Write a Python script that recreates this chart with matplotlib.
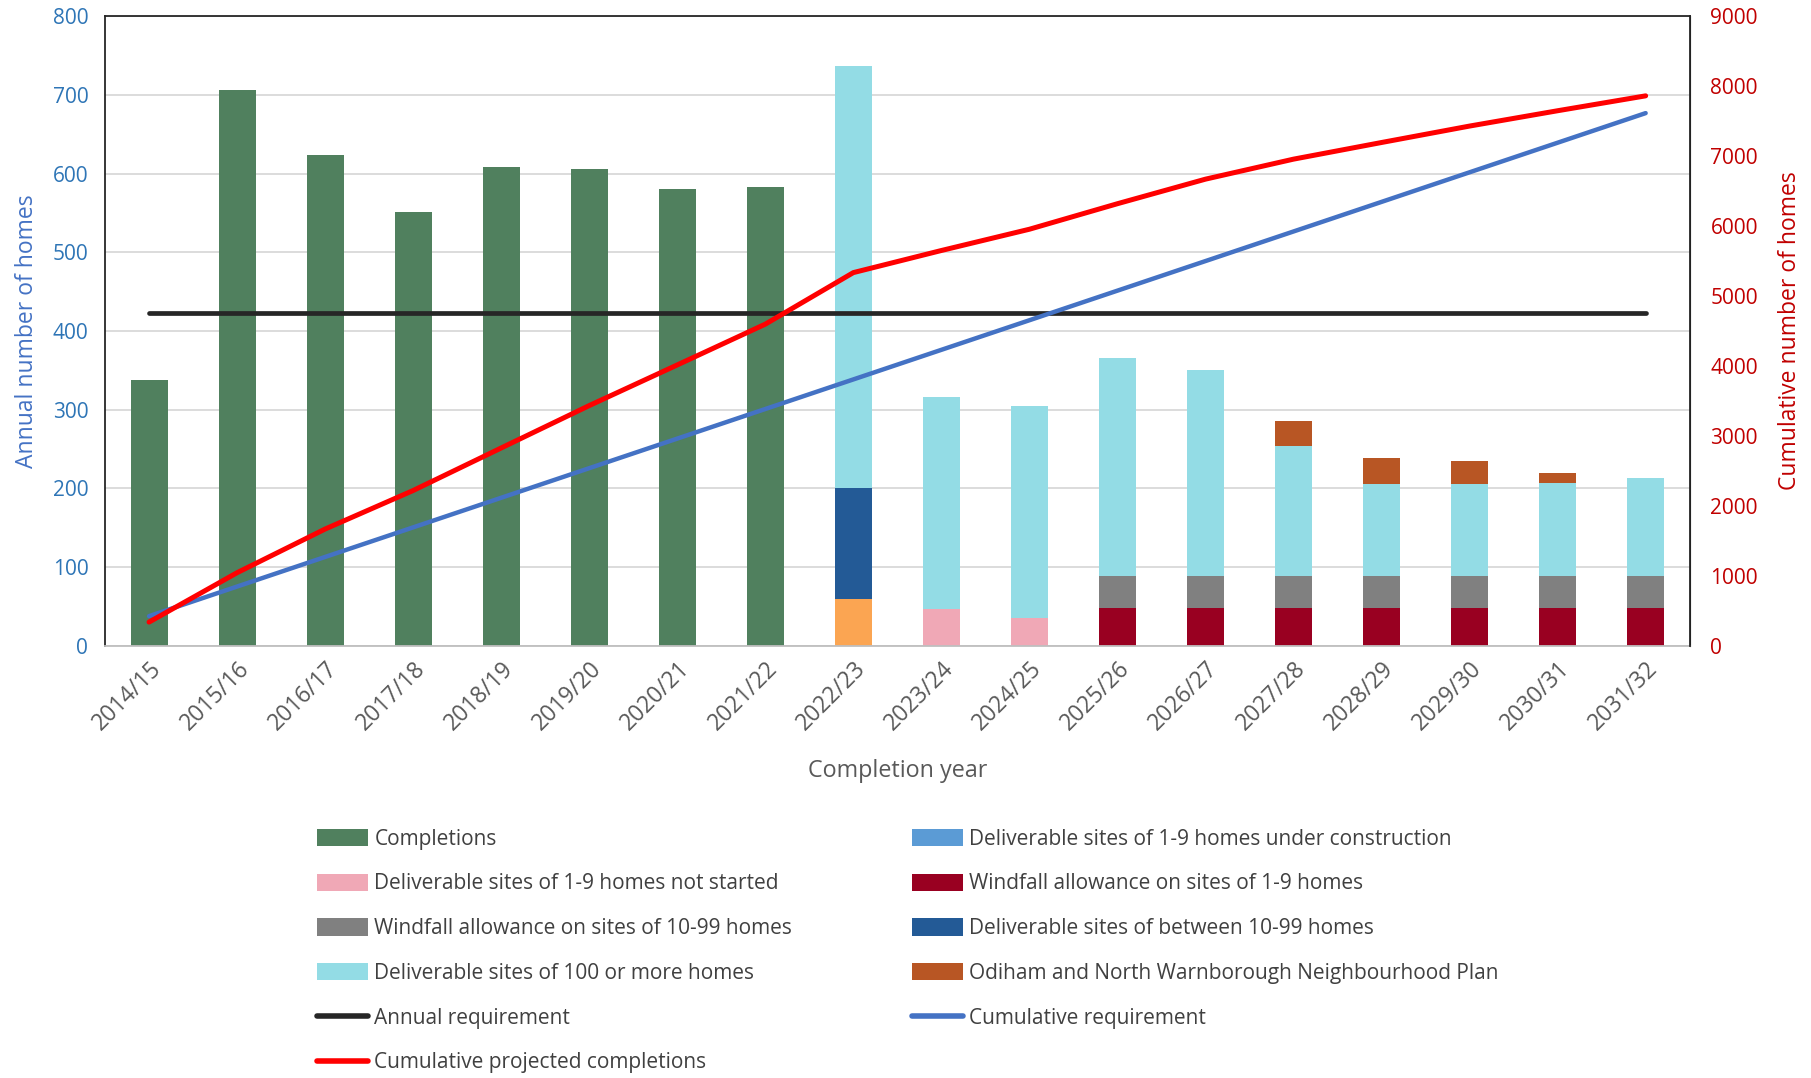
import matplotlib.pyplot as plt
from matplotlib.patches import Patch
from matplotlib.lines import Line2D

plt.rcParams['font.family'] = ['Open Sans', 'DejaVu Sans']

years = ['2014/15', '2015/16', '2016/17', '2017/18', '2018/19', '2019/20',
         '2020/21', '2021/22', '2022/23', '2023/24', '2024/25', '2025/26',
         '2026/27', '2027/28', '2028/29', '2029/30', '2030/31', '2031/32']

# stacked bar series (bottom to top)
completions = [338, 706, 624, 551, 608, 606, 581, 583, 0, 0, 0, 0, 0, 0, 0, 0, 0, 0]
under_construction = [0, 0, 0, 0, 0, 0, 0, 0, 60, 0, 0, 0, 0, 0, 0, 0, 0, 0]
not_started = [0, 0, 0, 0, 0, 0, 0, 0, 0, 47, 35, 0, 0, 0, 0, 0, 0, 0]
windfall_small = [0, 0, 0, 0, 0, 0, 0, 0, 0, 0, 0, 48, 48, 48, 48, 48, 48, 48]
windfall_medium = [0, 0, 0, 0, 0, 0, 0, 0, 0, 0, 0, 40, 40, 40, 40, 40, 40, 40]
deliverable_medium = [0, 0, 0, 0, 0, 0, 0, 0, 140, 0, 0, 0, 0, 0, 0, 0, 0, 0]
deliverable_large = [0, 0, 0, 0, 0, 0, 0, 0, 537, 269, 269, 277, 263, 166, 118, 118, 119, 125]
odiham = [0, 0, 0, 0, 0, 0, 0, 0, 0, 0, 0, 0, 0, 32, 32, 29, 12, 0]

# lines
annual_req = [423] * 18
cumulative_req = [423, 846, 1269, 1692, 2115, 2538, 2961, 3384, 3807, 4230,
                  4653, 5076, 5499, 5922, 6345, 6768, 7191, 7614]
cumulative_proj = [338, 1044, 1668, 2219, 2827, 3433, 4014, 4597, 5334, 5650,
                   5954, 6319, 6670, 6956, 7194, 7429, 7648, 7861]

series = [
    (completions, '#50805E', '#50805E', 'Completions'),
    (under_construction, '#FBA552', '#5B9BD5', 'Deliverable sites of 1-9 homes under construction'),
    (not_started, '#F0A8B6', '#F0A8B6', 'Deliverable sites of 1-9 homes not started'),
    (windfall_small, '#990021', '#990021', 'Windfall allowance on sites of 1-9 homes'),
    (windfall_medium, '#808080', '#808080', 'Windfall allowance on sites of 10-99 homes'),
    (deliverable_medium, '#235A96', '#235A96', 'Deliverable sites of between 10-99 homes'),
    (deliverable_large, '#93DCE5', '#93DCE5', 'Deliverable sites of 100 or more homes'),
    (odiham, '#B85624', '#B85624', 'Odiham and North Warnborough Neighbourhood Plan'),
]

fig = plt.figure(figsize=(18.11, 10.78), dpi=100)
ax = fig.add_axes([0.058, 0.401, 0.875, 0.584])
x = list(range(len(years)))

handles = []
bottom = [0] * len(years)
for vals, col, legcol, lab in series:
    ax.bar(x, vals, 0.42, bottom=bottom, color=col, zorder=2)
    bottom = [b + v for b, v in zip(bottom, vals)]
    handles.append(Patch(facecolor=legcol, label=lab))

ax.plot(x, annual_req, color='#262626', lw=3.4, solid_capstyle='round', zorder=3)

ax.set_xlim(-0.5, len(years) - 0.5)
ax.set_ylim(0, 800)
ax.set_yticks(range(0, 801, 100))
ax.grid(axis='y', color='#D9D9D9', lw=1.3, zorder=0)
ax.tick_params(axis='y', colors='#2E75B6', labelsize=15, length=0, pad=12)
ax.tick_params(axis='x', colors='#595959', labelsize=16.5, length=0, pad=8)
ax.set_xticks(x)
ax.set_xticklabels(years, rotation=45, ha='right', rotation_mode='anchor')
ax.set_ylabel('Annual number of homes', color='#4472C4', fontsize=16.5, labelpad=10)
ax.set_xlabel('Completion year', color='#595959', fontsize=16.8, labelpad=17)
for s in ['left', 'top']:
    ax.spines[s].set_color('#262626')
    ax.spines[s].set_linewidth(1.3)
ax.spines['bottom'].set_color('#BFBFBF')
ax.spines['bottom'].set_linewidth(1.3)

ax2 = ax.twinx()
ax2.plot(x, cumulative_req, color='#4472C4', lw=3.2, solid_capstyle='round')
ax2.plot(x, cumulative_proj, color='#FF0000', lw=3.6, solid_capstyle='round')
ax2.set_ylim(0, 9000)
ax2.set_yticks(range(0, 9001, 1000))
ax2.tick_params(axis='y', colors='#C00000', labelsize=15, length=0, pad=15)
ax2.set_ylabel('Cumulative number of homes', color='#C00000', fontsize=16.5, labelpad=14)
ax2.spines['right'].set_color('#262626')
ax2.spines['right'].set_linewidth(1.3)
ax2.spines['top'].set_visible(False)
ax2.spines['left'].set_visible(False)
ax2.spines['bottom'].set_visible(False)

handles.append(Line2D([], [], color='#262626', lw=4, solid_capstyle='round', label='Annual requirement'))
handles.append(Line2D([], [], color='#4472C4', lw=4, solid_capstyle='round', label='Cumulative requirement'))
handles.append(Line2D([], [], color='#FF0000', lw=4, solid_capstyle='round', label='Cumulative projected completions'))

order = [0, 2, 4, 6, 8, 10, 1, 3, 5, 7, 9]
leg = fig.legend([handles[i] for i in order], [handles[i].get_label() for i in order],
                 ncol=2, loc='upper left', bbox_to_anchor=(0.1705, 0.239),
                 frameon=False, fontsize=15, labelcolor='#404040',
                 handlelength=2.45, handleheight=0.9, handletextpad=0.3,
                 columnspacing=5.75, labelspacing=1.14, borderaxespad=0)

fig.savefig('out.png', dpi=100)
